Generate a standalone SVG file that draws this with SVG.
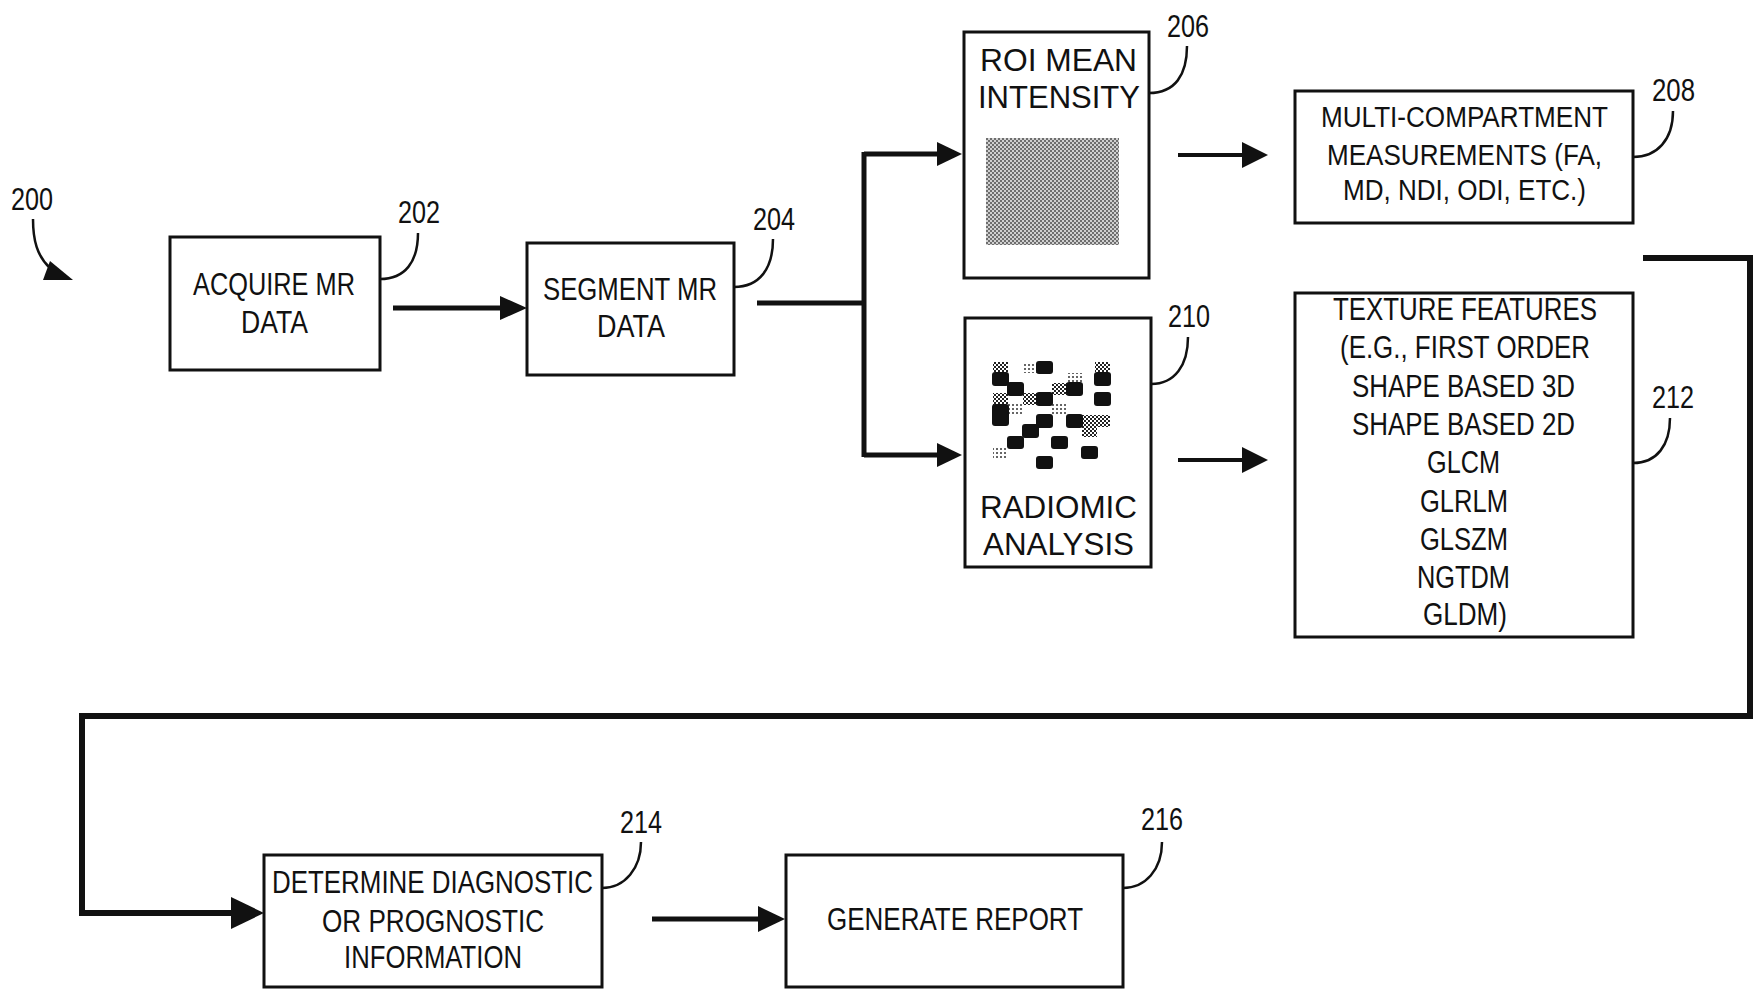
<svg xmlns="http://www.w3.org/2000/svg" width="1754" height="989" viewBox="0 0 1754 989">
  <style>
    .box { fill: #fff; stroke: #111; stroke-width: 3; }
    .t { font-family: "Liberation Sans", Arial, sans-serif; font-size: 32px; fill: #111; }
    .s { font-size: 31px; }
    .m { font-size: 30px; }
    .lbl { font-family: "Liberation Sans", Arial, sans-serif; font-size: 32px; fill: #111; }
    .lead { fill: none; stroke: #111; stroke-width: 2.5; }
    .wire { fill: none; stroke: #111; stroke-width: 5; }
    .thin { stroke-width: 4; }
    .bold { stroke-width: 6; }
    .head { fill: #111; }
    .blk { fill: #111; }
  </style>
  <defs>
    <pattern id="halftone" width="4" height="4" patternUnits="userSpaceOnUse">
      <rect width="4" height="4" fill="#d0d0d0"/>
      <rect width="2" height="2" fill="#6e6e6e"/>
      <rect x="2" y="2" width="2" height="2" fill="#6e6e6e"/>
    </pattern>
    <pattern id="dots" width="4" height="4" patternUnits="userSpaceOnUse">
      <rect width="4" height="4" fill="#fff"/>
      <rect width="2" height="2" fill="#222"/>
      <rect x="2" y="2" width="2" height="2" fill="#222"/>
    </pattern>
    <pattern id="sparse" width="4" height="4" patternUnits="userSpaceOnUse">
      <rect width="4" height="4" fill="#fff"/>
      <rect width="2" height="2" fill="#666"/>
    </pattern>
  </defs>

  <!-- figure reference -->
  <g id="ref-200">
    <text class="lbl" x="11" y="210" textLength="42" lengthAdjust="spacingAndGlyphs">200</text>
    <path class="lead" d="M33,219 C33,240 37,256 50,268"/>
    <polygon class="head" points="43,280 50,261 73,280"/>
  </g>

  <g id="n202">
    <rect class="box" x="170" y="237" width="210" height="133"/>
    <text class="t" x="193" y="295" textLength="162" lengthAdjust="spacingAndGlyphs">ACQUIRE MR</text>
    <text class="t" x="241" y="333" textLength="67" lengthAdjust="spacingAndGlyphs">DATA</text>
    <path class="lead" d="M380,279 C405,279 418,262 418,233"/>
    <text class="lbl" x="398" y="223" textLength="42" lengthAdjust="spacingAndGlyphs">202</text>
  </g>

  <g id="n204">
    <rect class="box" x="527" y="243" width="207" height="132"/>
    <text class="t" x="543" y="300" textLength="174" lengthAdjust="spacingAndGlyphs">SEGMENT MR</text>
    <text class="t" x="597" y="337" textLength="68" lengthAdjust="spacingAndGlyphs">DATA</text>
    <path class="lead" d="M734,287 C760,287 773,268 773,239"/>
    <text class="lbl" x="753" y="230" textLength="42" lengthAdjust="spacingAndGlyphs">204</text>
  </g>

  <g id="n206">
    <rect class="box" x="964" y="32" width="185" height="246"/>
    <text class="t" x="980" y="71" textLength="157" lengthAdjust="spacingAndGlyphs">ROI MEAN</text>
    <text class="t" x="978" y="108" textLength="162" lengthAdjust="spacingAndGlyphs">INTENSITY</text>
    <rect x="986" y="138" width="133" height="107" fill="url(#halftone)"/>
    <path class="lead" d="M1149,93 C1175,93 1187,75 1187,46"/>
    <text class="lbl" x="1167" y="37" textLength="42" lengthAdjust="spacingAndGlyphs">206</text>
  </g>

  <g id="n208">
    <rect class="box" x="1295" y="91" width="338" height="132"/>
    <text class="t m" x="1321" y="127" textLength="287" lengthAdjust="spacingAndGlyphs">MULTI-COMPARTMENT</text>
    <text class="t m" x="1327" y="165" textLength="275" lengthAdjust="spacingAndGlyphs">MEASUREMENTS (FA,</text>
    <text class="t m" x="1343" y="200" textLength="243" lengthAdjust="spacingAndGlyphs">MD, NDI, ODI, ETC.)</text>
    <path class="lead" d="M1633,157 C1657,157 1673,140 1673,111"/>
    <text class="lbl" x="1652" y="101" textLength="43" lengthAdjust="spacingAndGlyphs">208</text>
  </g>

  <g id="n210">
    <rect class="box" x="965" y="318" width="186" height="249"/>
    <!-- texture sample grid -->
    <g>
      <rect x="993" y="362" width="15" height="10" fill="url(#dots)"/>
      <rect x="1095" y="362" width="15" height="10" fill="url(#dots)"/>
      <rect x="1052" y="383" width="15" height="12" fill="url(#dots)"/>
      <rect x="993" y="393" width="15" height="12" fill="url(#dots)"/>
      <rect x="1023" y="393" width="15" height="12" fill="url(#dots)"/>
      <rect x="1082" y="415" width="28" height="12" fill="url(#dots)"/>
      <rect x="1082" y="425" width="15" height="12" fill="url(#dots)"/>
      <rect x="1023" y="363" width="14" height="10" fill="url(#sparse)"/>
      <rect x="1067" y="373" width="15" height="10" fill="url(#sparse)"/>
      <rect x="1008" y="403" width="15" height="12" fill="url(#sparse)"/>
      <rect x="1052" y="403" width="15" height="12" fill="url(#sparse)"/>
      <rect x="993" y="447" width="15" height="11" fill="url(#sparse)"/>
      <rect class="blk" x="992" y="372" width="17" height="14" rx="3"/>
      <rect class="blk" x="1036" y="361" width="17" height="13" rx="3"/>
      <rect class="blk" x="1094" y="372" width="17" height="14" rx="3"/>
      <rect class="blk" x="1007" y="382" width="17" height="14" rx="3"/>
      <rect class="blk" x="1066" y="382" width="17" height="14" rx="3"/>
      <rect class="blk" x="1036" y="392" width="17" height="14" rx="3"/>
      <rect class="blk" x="1094" y="392" width="17" height="14" rx="3"/>
      <rect class="blk" x="992" y="404" width="17" height="22" rx="3"/>
      <rect class="blk" x="1036" y="414" width="17" height="14" rx="3"/>
      <rect class="blk" x="1066" y="414" width="17" height="14" rx="3"/>
      <rect class="blk" x="1022" y="424" width="17" height="14" rx="3"/>
      <rect class="blk" x="1007" y="436" width="17" height="13" rx="3"/>
      <rect class="blk" x="1051" y="436" width="17" height="13" rx="3"/>
      <rect class="blk" x="1081" y="446" width="17" height="13" rx="3"/>
      <rect class="blk" x="1036" y="456" width="17" height="13" rx="3"/>
    </g>
    <text class="t" x="980" y="518" textLength="157" lengthAdjust="spacingAndGlyphs">RADIOMIC</text>
    <text class="t" x="983" y="555" textLength="151" lengthAdjust="spacingAndGlyphs">ANALYSIS</text>
    <path class="lead" d="M1151,384 C1175,384 1188,365 1188,337"/>
    <text class="lbl" x="1168" y="327" textLength="42" lengthAdjust="spacingAndGlyphs">210</text>
  </g>

  <g id="n212">
    <rect class="box" x="1295" y="293" width="338" height="344"/>
    <text class="t s" x="1333" y="320" textLength="264" lengthAdjust="spacingAndGlyphs">TEXTURE FEATURES</text>
    <text class="t s" x="1340" y="358" textLength="250" lengthAdjust="spacingAndGlyphs">(E.G., FIRST ORDER</text>
    <text class="t s" x="1352" y="397" textLength="223" lengthAdjust="spacingAndGlyphs">SHAPE BASED 3D</text>
    <text class="t s" x="1352" y="435" textLength="223" lengthAdjust="spacingAndGlyphs">SHAPE BASED 2D</text>
    <text class="t s" x="1427" y="473" textLength="73" lengthAdjust="spacingAndGlyphs">GLCM</text>
    <text class="t s" x="1420" y="512" textLength="88" lengthAdjust="spacingAndGlyphs">GLRLM</text>
    <text class="t s" x="1420" y="550" textLength="88" lengthAdjust="spacingAndGlyphs">GLSZM</text>
    <text class="t s" x="1417" y="588" textLength="93" lengthAdjust="spacingAndGlyphs">NGTDM</text>
    <text class="t s" x="1423" y="625" textLength="84" lengthAdjust="spacingAndGlyphs">GLDM)</text>
    <path class="lead" d="M1633,463 C1657,463 1670,445 1670,418"/>
    <text class="lbl" x="1652" y="408" textLength="42" lengthAdjust="spacingAndGlyphs">212</text>
  </g>

  <g id="n214">
    <rect class="box" x="264" y="855" width="338" height="132"/>
    <text class="t" x="272" y="893" textLength="321" lengthAdjust="spacingAndGlyphs">DETERMINE DIAGNOSTIC</text>
    <text class="t" x="322" y="932" textLength="222" lengthAdjust="spacingAndGlyphs">OR PROGNOSTIC</text>
    <text class="t" x="344" y="968" textLength="178" lengthAdjust="spacingAndGlyphs">INFORMATION</text>
    <path class="lead" d="M602,888 C625,888 641,868 641,842"/>
    <text class="lbl" x="620" y="833" textLength="42" lengthAdjust="spacingAndGlyphs">214</text>
  </g>

  <g id="n216">
    <rect class="box" x="786" y="855" width="337" height="132"/>
    <text class="t" x="827" y="930" textLength="256" lengthAdjust="spacingAndGlyphs">GENERATE REPORT</text>
    <path class="lead" d="M1123,888 C1145,888 1162,870 1162,842"/>
    <text class="lbl" x="1141" y="830" textLength="42" lengthAdjust="spacingAndGlyphs">216</text>
  </g>

  <g id="connectors">
    <!-- 202 to 204 -->
    <path class="wire" d="M393,308 H505"/>
    <polygon class="head" points="500,296 527,308 500,320"/>
    <!-- 204 splits to 206 and 210 -->
    <path class="wire" d="M757,303 H864 M864,152 V457 M864,154 H940 M864,455 H940"/>
    <polygon class="head" points="937,142 962,154 937,166"/>
    <polygon class="head" points="937,443 962,455 937,467"/>
    <!-- 206 to 208 -->
    <path class="wire thin" d="M1178,155 H1246"/>
    <polygon class="head" points="1242,142 1268,155 1242,168"/>
    <!-- 210 to 212 -->
    <path class="wire thin" d="M1178,460 H1246"/>
    <polygon class="head" points="1242,447 1268,460 1242,473"/>
    <!-- feature results loop down to 214 -->
    <path class="wire bold" d="M1643,258 H1750 V716 H82 V913 H236"/>
    <polygon class="head" points="231,897 264,913 231,929"/>
    <!-- 214 to 216 -->
    <path class="wire" d="M652,919 H762"/>
    <polygon class="head" points="758,906 785,919 758,932"/>
  </g>
</svg>
